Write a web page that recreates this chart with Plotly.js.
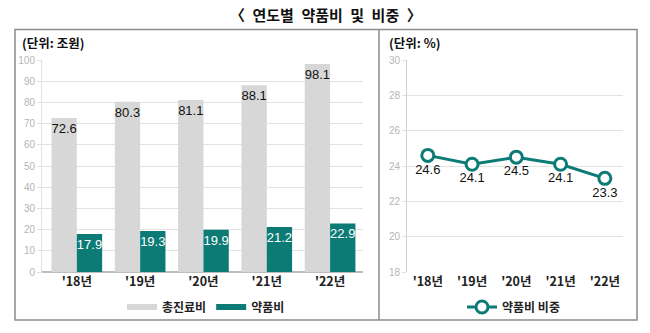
<!DOCTYPE html>
<html>
<head>
<meta charset="utf-8">
<script src="https://cdn.plot.ly/plotly-3.0.1.min.js"></script>
<style>html,body{margin:0;padding:0;background:#fff;}#chart{width:650px;height:333px;}</style>
</head>
<body>
<div id="chart"></div>
<script>
// Data
const years = ["'18년", "'19년", "'20년", "'21년", "'22년"];
const totalCost = [72.6, 80.3, 81.1, 88.1, 98.1];       // 총진료비 (조원)
const drugCost = [17.9, 19.3, 19.9, 21.2, 22.9];        // 약품비 (조원)
const drugShare = [24.6, 24.1, 24.5, 24.1, 23.3];       // 약품비 비중 (%)
const seriesNames = ["총진료비", "약품비", "약품비 비중"];
const titleText = "〈 연도별 약품비 및 비중 〉";
const unitLeft = "(단위: 조원)";
const unitRight = "(단위: %)";

const W = 650, H = 333;
const px = x => x / W;
const py = y => 1 - y / H;

const FONT = "Liberation Sans, Arial, 'Noto Sans CJK KR', sans-serif";
const KFONT = "'Noto Sans CJK KR', 'Liberation Sans', sans-serif";
const TEAL = "#0c7b76";
const GRAY = "#d7d7d7";

const traces = [
  {
    type: "bar", x: years, y: totalCost, name: seriesNames[0],
    marker: {color: GRAY}, xaxis: "x", yaxis: "y",
    text: totalCost.map(v => v.toFixed(1)), textposition: "inside",
    insidetextanchor: "end", textangle: 0, constraintext: "none",
    textfont: {color: "#111", size: 13, family: FONT},
    showlegend: false, hoverinfo: "skip"
  },
  {
    type: "bar", x: years, y: drugCost, name: seriesNames[1],
    marker: {color: TEAL}, xaxis: "x", yaxis: "y",
    text: drugCost.map(v => v.toFixed(1)), textposition: "inside",
    insidetextanchor: "end", textangle: 0, constraintext: "none",
    textfont: {color: "#fff", size: 13, family: FONT},
    showlegend: false, hoverinfo: "skip"
  },
  // legend proxies for the bars
  {
    type: "scatter", mode: "lines", x: [null], y: [null], name: "<b>" + seriesNames[0] + "</b>",
    line: {color: GRAY, width: 6}, xaxis: "x", yaxis: "y", legend: "legend"
  },
  {
    type: "scatter", mode: "lines", x: [null], y: [null], name: "<b>" + seriesNames[1] + "</b>",
    line: {color: TEAL, width: 6}, xaxis: "x", yaxis: "y", legend: "legend"
  },
  {
    type: "scatter", mode: "lines+markers+text", x: years, y: drugShare,
    name: "<b>" + seriesNames[2] + "</b>", xaxis: "x2", yaxis: "y2", legend: "legend2",
    line: {color: TEAL, width: 3},
    marker: {symbol: "circle", size: 12, color: "#fff", line: {color: TEAL, width: 3}},
    text: drugShare.map(v => v.toFixed(1)), textposition: "bottom center",
    textfont: {color: "#111", size: 13, family: FONT},
    cliponaxis: false, hoverinfo: "skip"
  }
];

const gridC = "#e2e2e2";
const tickFont = {color: "#b5b5b5", size: 10, family: FONT};
const xTickFont = {color: "#222", size: 12.5, family: KFONT, weight: "bold"};

const layout = {
  width: W, height: H,
  margin: {l: 0, r: 0, t: 0, b: 0},
  paper_bgcolor: "#fff", plot_bgcolor: "#fff",
  font: {family: KFONT},
  barmode: "group", bargap: 0.2, bargroupgap: 0,
  showlegend: true,
  xaxis: {
    domain: [px(42), px(363)], range: [-0.55, 4.52], type: "category",
    showgrid: false, showline: false, zeroline: false,
    ticks: "", tickfont: xTickFont, anchor: "y", fixedrange: true
  },
  yaxis: {
    domain: [py(272), py(60)], range: [0, 100], dtick: 10,
    showgrid: true, gridcolor: gridC, gridwidth: 1,
    zeroline: true, zerolinecolor: "#bdbdbd", zerolinewidth: 1.5,
    showline: true, linecolor: gridC, linewidth: 1,
    ticks: "outside", ticklen: 4, tickcolor: gridC,
    tickfont: tickFont, anchor: "x", fixedrange: true
  },
  xaxis2: {
    domain: [px(407), px(623)], range: [-0.47, 4.41], type: "category",
    showgrid: false, showline: false, zeroline: false,
    ticks: "", tickfont: xTickFont, anchor: "y2", fixedrange: true
  },
  yaxis2: {
    domain: [py(272), py(60)], range: [18, 30], dtick: 2,
    showgrid: true, gridcolor: gridC, gridwidth: 1,
    zeroline: false,
    showline: true, linecolor: "#d0d0d0", linewidth: 1,
    ticks: "outside", ticklen: 4, tickcolor: gridC,
    tickfont: tickFont, anchor: "x2", fixedrange: true
  },
  legend: {
    orientation: "h", x: px(122), y: py(307), xanchor: "left", yanchor: "middle",
    font: {size: 12, color: "#222", family: KFONT}, bgcolor: "rgba(0,0,0,0)",
    itemwidth: 30, tracegroupgap: 0, traceorder: "normal"
  },
  legend2: {
    orientation: "h", x: px(462), y: py(307), xanchor: "left", yanchor: "middle",
    font: {size: 12, color: "#222", family: KFONT}, bgcolor: "rgba(0,0,0,0)",
    itemwidth: 30
  },
  shapes: [
    {type: "rect", xref: "paper", yref: "paper", x0: px(15), x1: px(637), y0: py(320), y1: py(29.5),
     line: {color: "#8c8c8c", width: 1.5}, fillcolor: "rgba(0,0,0,0)", layer: "below"},
    {type: "line", xref: "paper", yref: "paper", x0: px(379), x1: px(379), y0: py(320), y1: py(29.5),
     line: {color: "#8c8c8c", width: 1.5}, layer: "below"}
  ],
  annotations: [
    {text: "<b>" + titleText.split(" ").join("\u2002") + "</b>", xref: "paper", yref: "paper", x: px(326), y: py(15),
     xanchor: "center", yanchor: "middle", showarrow: false,
     font: {size: 15, color: "#111", family: KFONT}},
    {text: "<b>" + unitLeft + "</b>", xref: "paper", yref: "paper", x: px(20), y: py(43),
     xanchor: "left", yanchor: "middle", showarrow: false,
     font: {size: 12.5, color: "#111", family: KFONT}},
    {text: "<b>" + unitRight + "</b>", xref: "paper", yref: "paper", x: px(387), y: py(43),
     xanchor: "left", yanchor: "middle", showarrow: false,
     font: {size: 12.5, color: "#111", family: KFONT}}
  ]
};

Plotly.newPlot("chart", traces, layout, {displayModeBar: false, staticPlot: true});
</script>
</body>
</html>
